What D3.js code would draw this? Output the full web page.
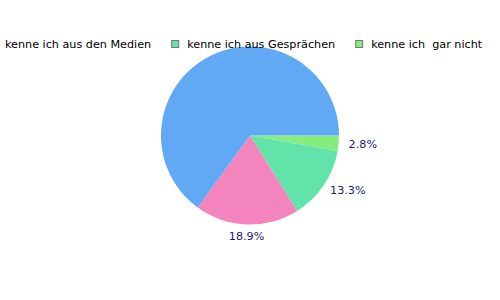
<!DOCTYPE html>
<html><head><meta charset="utf-8">
<script src="https://cdn.jsdelivr.net/npm/d3@7"></script>
<style>body{margin:0;background:#fff}svg{display:block}</style>
</head><body>
<svg id="c" width="500" height="300"></svg>
<script>
// slices drawn clockwise from 3 o'clock
const categories = ["kenne ich  gar nicht", "kenne ich aus Gesprächen", "(pink)", "kenne ich aus den Medien"];
const values = [2.8, 13.3, 18.9, 65.0];
const colors = ["#88eb80", "#62e3aa", "#f384bd", "#61a9f5"];
const labelsShown = ["2.8%", "13.3%", "18.9%", null];
const legendItems = ["kenne ich aus den Medien", "kenne ich aus Gesprächen", "kenne ich  gar nicht"];
const legendColors = ["#61a9f5", "#62e3aa", "#88eb80"];

const svg = d3.select("#c");
const cx = 250, cy = 135.5, r = 89;
const pie = d3.pie().sort(null).value(d => d).startAngle(Math.PI/2).endAngle(Math.PI/2 + 2*Math.PI);
const arcs = pie(values);
const arc = d3.arc().innerRadius(0).outerRadius(r);
const g = svg.append("g").attr("transform", `translate(${cx},${cy})`);
g.selectAll("path").data(arcs).join("path").attr("d", arc).attr("fill", (d,i) => colors[i]);

const lr = 99;
arcs.forEach((d, i) => {
  if (!labelsShown[i]) return;
  const a = (d.startAngle + d.endAngle) / 2;
  const x = lr * Math.sin(a), y = -lr * Math.cos(a);
  const s = Math.sin(a);
  g.append("text").attr("x", x - (s > 0.3 && s < 0.9 ? 2 : 0)).attr("y", y + (Math.abs(s) < 0.3 ? 2 : 0))
    .attr("text-anchor", Math.abs(s) < 0.3 ? "middle" : (s > 0 ? "start" : "end"))
    .attr("dominant-baseline", "central")
    .attr("font-family", "DejaVu Sans").attr("font-size", 11.2).attr("fill", "#1a1a7a")
    .text(labelsShown[i]);
});

// legend
const lg = svg.append("g");
let x = -11;
legendItems.forEach((t, i) => {
  lg.append("rect").attr("x", x + 0.5).attr("y", 40.5).attr("width", 7).attr("height", 7)
    .attr("fill", legendColors[i]).attr("stroke", "#777").attr("stroke-width", 1);
  const tx = lg.append("text").attr("x", x + 16).attr("y", 48)
    .attr("font-family", "DejaVu Sans").attr("font-size", 11.2).attr("fill", "#000")
    .style("white-space", "pre").attr("xml:space", "preserve").text(t);
  x = x + 16 + tx.node().getComputedTextLength() + 20;
});
</script>
</body></html>
